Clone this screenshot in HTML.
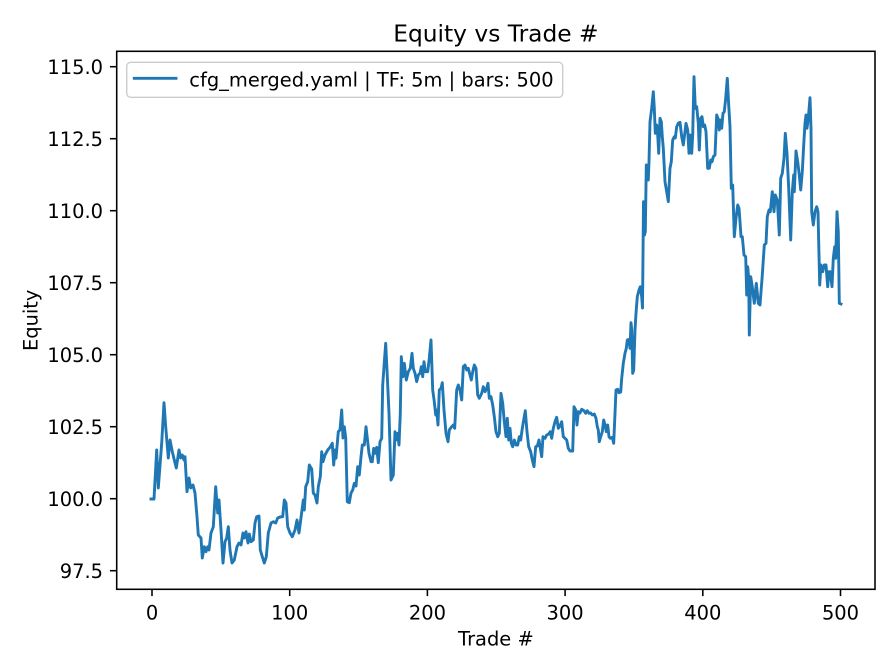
<!DOCTYPE html>
<html>
<head>
<meta charset="utf-8">
<style>
  html, body { margin: 0; padding: 0; background: #ffffff; }
  svg { display: block; }
  text { font-family: "DejaVu Sans", "Liberation Sans", sans-serif; fill: #000; }
</style>
</head>
<body>
<svg width="896" height="672" viewBox="0 0 896 672" xmlns="http://www.w3.org/2000/svg">
  <rect x="0" y="0" width="896" height="672" fill="#ffffff"/>

  <!-- title -->
  <text x="495.9" y="41.7" font-size="23.33" text-anchor="middle">Equity vs Trade #</text>

  <!-- series -->
  <polyline fill="none" stroke="#1f77b4" stroke-width="2.9" stroke-linejoin="round" stroke-linecap="square"
   points="151,499 154,499 156.7,450 158.3,488 161.7,443 164,402.7 165.7,426.7 168.3,458 170,440 172.3,451.7 174.3,460 176.3,468 179,450 180.7,458 182.3,455 184,460 185,456.7 187,491.7 189,478 190.7,488 193,485 195,493 197,516.7 198.3,535 201,538 202.3,558 204.3,546.7 206,551.7 207.7,546.7 209,550 211,533 213.3,526.7 215.7,486.7 217.7,513 219,500 221,530 223,563 225,541.7 226.7,538 228.3,526.7 230,550 232,563 234.3,560 237,546.7 239,543 241,545 243,533 244.3,538 246,531.7 248,543 249.3,534 251,541.7 253.3,540 255,523 256.7,516.7 259,516 260.3,550 262.3,556.7 264.3,563 266.3,556.7 268.3,533 271,523 273.3,521.7 275.7,523 277.7,518 280,517 282.7,516.7 284.3,500 286,503 287.7,526.7 290,533 292.3,536.7 295,530 297,520 299,533 303.3,500 304.3,510 305.7,486.7 307.7,481.7 309.3,465 311.7,469 313.3,493 315,495 317,503 318.3,486.7 320.3,476.7 321.7,451.7 323,461.7 325,455 327.7,450 330,447.3 332.3,443.3 333.7,465 335,450 336,458.3 338.3,431.7 340,430 341.7,410 343,438 344.3,426.7 345.7,438 347.3,501.7 349.3,502.7 351,493 352.7,490 354.3,483.3 356,486 357.7,466.7 359.3,475 361,456.7 362.3,445 364.3,445 366,426.7 367.7,441.7 369,453.3 371,461.7 372.3,461.7 373.7,448.3 375,453.3 376.7,447.3 378.3,462.7 380,441.7 381.7,438.3 382.7,385 384,366.7 385.7,343.3 387,370 389,413.3 391,480 393.3,475 395,431.7 396.3,440 397.7,433.3 399,445 400.3,413.3 401.3,356.7 403,376.7 404.3,363.3 406.3,380 408.3,371.7 410.3,368.3 412,353.3 413.3,368.3 415,373.3 416.7,381.7 418.3,375 420,373.3 421.3,366.7 422.7,376.7 424,361.7 425.3,371.7 427.7,371.7 429.3,358.3 431,340 432.7,390 434.3,401.7 435.7,415 436.7,410 438,425 439.3,390 441,388.3 442.3,382.7 444,410 446,433.3 448,441.7 449.3,430 451.7,426.7 453.3,425 454.7,428.3 456.7,390 458.3,385 460,390 461.7,400 463.3,366.7 465,365 466.7,370 468.3,368.3 470,375 471.3,380 472.7,371.7 474.3,365 476,368.3 477.7,395 479.3,398.3 481.7,393.3 483.3,386.7 485,391.7 486.7,388.3 488,383.3 489.3,398.3 491,396.7 492.7,405 494.3,416.7 496,431.7 497.7,436.7 499.3,433.3 501,393.3 502.7,403.3 504.3,421.7 506,436.7 507.3,418.3 508.7,440 510,428.3 511.3,443.3 512.7,446.7 514.3,440 516,445 517.7,445 519.3,436.7 520.7,440 522.3,428.3 524,418.3 525.3,410.7 527,431.7 528.7,446.7 530.7,451.7 532.3,460 534,466.7 535.7,446.7 537.3,446 539,440 540.3,448.3 541.7,456.7 543,436.7 545,438.3 546.7,435 548.7,434 550.3,431.7 551.7,438.3 553.3,428.3 555,421.7 556.7,417.3 558.3,428.3 560,426 561.7,421.7 563.3,436.7 565,438.3 566.7,440 568.3,448.3 570,451 572.7,451 574,406.7 575.7,410 577,425 578.3,411.7 580,413 581.7,409.3 584,410.7 585.7,413.3 587.3,410.7 589,413.3 590.7,413 592.3,415 594.3,414 596,418.3 597.3,426.7 598.3,430 599.3,441.7 600.7,436.7 602.3,431.7 603.7,420 605,425 606.3,431.7 607.7,425 609,436.7 610.3,438.3 612.3,437.3 613.7,443.3 615,413.3 616,390 617.7,389.3 619,392.7 620.7,392 621.7,378.3 623.3,363.3 625,353.3 626.3,348.3 627.3,340 629,339.3 630,348.3 631,322.7 631.7,330 632.7,373.3 633.7,370 635,330 636,313.3 637.3,296.7 639,290 640.3,286.7 641.7,296.7 642.5,308 643.5,201.7 644.5,235 645.3,231.7 646.3,165 647.3,180 648.3,180 649,161.7 650,121.7 651.7,108.3 653.3,91.7 654.3,108.3 655.3,133.3 656.7,125 657.7,135 658.7,153.3 660,118.3 661.3,121.7 662.3,136.7 663.3,148.3 665,181.7 666.7,191.7 668.3,201.7 670,168.3 671.3,161.7 672.7,140 674.3,136.7 675.3,138 676.7,126.7 678.3,123.3 680,122.3 681.7,136.7 683.3,145 685,131.7 686,123.3 687.7,130 689,153.3 690.3,135 691.7,153.3 692.7,135 694,76.7 695.3,108.3 696.7,106.7 698.3,123.3 699.3,150 700.7,118.3 702,116.7 703.3,126.7 704.7,125 706,131.7 707.7,168.3 709.3,168.3 710.7,160 712,161.7 713.3,156.7 715,155 716.7,115 718,118.3 719.3,130 720.3,120 721.7,128.3 723,113.3 724.3,111.7 725.7,98.3 727.3,78.3 728.7,105 730,126.7 731.3,188.3 732.7,185 734.3,236.7 736,218.3 737.7,205 739,208.3 740,221.7 741,236.7 742.3,236.7 744,255 745.7,256.7 746.7,295 747.7,266.7 748.7,278.3 749.3,335 750.7,276.7 752.3,286.7 754.3,303.3 756.3,283.3 758.3,303.3 760,305 762.3,275 764.3,245 766,243.3 767.3,216.7 769,210 770.3,211.7 772.3,191.7 774,211.7 775.3,195 777.3,200 779.3,235 780.7,178.3 782.3,173.3 784,158.3 785.3,133.3 787,153.3 788.7,188.3 790.7,240 792.3,191.7 793.7,175 794.3,191.7 796,151 797.7,161.7 799.3,175 800.7,190 802.3,171.7 803.7,145 805,123.3 806,115 807,128.3 808.3,118.3 810,97.7 811,128.3 811.7,211.7 813.3,225 815,211.7 816.7,206.7 818,211.7 819.7,285 821,265 822.7,271.7 824.3,265 826,265 827.7,286.7 829,271.7 830.3,271.7 832,286.7 833.3,258.3 834.7,246.7 835.7,258.3 837,211.7 838.3,231.7 839.3,303.3 841,304"/>

  <!-- axes frame -->
  <rect x="116.7" y="51.3" width="758.3" height="538" fill="none" stroke="#000" stroke-width="1.56"/>

  <!-- x ticks -->
  <g stroke="#000" stroke-width="1.56">
    <line x1="152" y1="589.3" x2="152" y2="596.1"/>
    <line x1="289.7" y1="589.3" x2="289.7" y2="596.1"/>
    <line x1="427.4" y1="589.3" x2="427.4" y2="596.1"/>
    <line x1="565.1" y1="589.3" x2="565.1" y2="596.1"/>
    <line x1="702.8" y1="589.3" x2="702.8" y2="596.1"/>
    <line x1="840.5" y1="589.3" x2="840.5" y2="596.1"/>
  </g>
  <g font-size="19.44" text-anchor="middle">
    <text x="152" y="619.5">0</text>
    <text x="289.7" y="619.5">100</text>
    <text x="427.4" y="619.5">200</text>
    <text x="565.1" y="619.5">300</text>
    <text x="702.8" y="619.5">400</text>
    <text x="840.5" y="619.5">500</text>
  </g>
  <text x="495.9" y="645.7" font-size="19.44" text-anchor="middle">Trade #</text>

  <!-- y ticks -->
  <g stroke="#000" stroke-width="1.56">
    <line x1="109.9" y1="570.7" x2="116.7" y2="570.7"/>
    <line x1="109.9" y1="498.7" x2="116.7" y2="498.7"/>
    <line x1="109.9" y1="426.7" x2="116.7" y2="426.7"/>
    <line x1="109.9" y1="354.7" x2="116.7" y2="354.7"/>
    <line x1="109.9" y1="282.7" x2="116.7" y2="282.7"/>
    <line x1="109.9" y1="210.7" x2="116.7" y2="210.7"/>
    <line x1="109.9" y1="138.7" x2="116.7" y2="138.7"/>
    <line x1="109.9" y1="66.7" x2="116.7" y2="66.7"/>
  </g>
  <g font-size="19.44" text-anchor="end">
    <text x="103" y="577.8">97.5</text>
    <text x="103" y="505.8">100.0</text>
    <text x="103" y="433.8">102.5</text>
    <text x="103" y="361.8">105.0</text>
    <text x="103" y="289.8">107.5</text>
    <text x="103" y="217.8">110.0</text>
    <text x="103" y="145.8">112.5</text>
    <text x="103" y="73.8">115.0</text>
  </g>
  <text transform="translate(37.7,320.3) rotate(-90)" font-size="19.44" text-anchor="middle">Equity</text>

  <!-- legend -->
  <rect x="126.7" y="62.3" width="436" height="35" rx="3.9" ry="3.9" fill="#ffffff" fill-opacity="0.8" stroke="#cccccc" stroke-width="1.4"/>
  <line x1="134.3" y1="78.3" x2="176" y2="78.3" stroke="#1f77b4" stroke-width="2.9" stroke-linecap="square"/>
  <text x="189.3" y="86.7" font-size="19.44">cfg_merged.yaml | TF: 5m | bars: 500</text>
</svg>
</body>
</html>
